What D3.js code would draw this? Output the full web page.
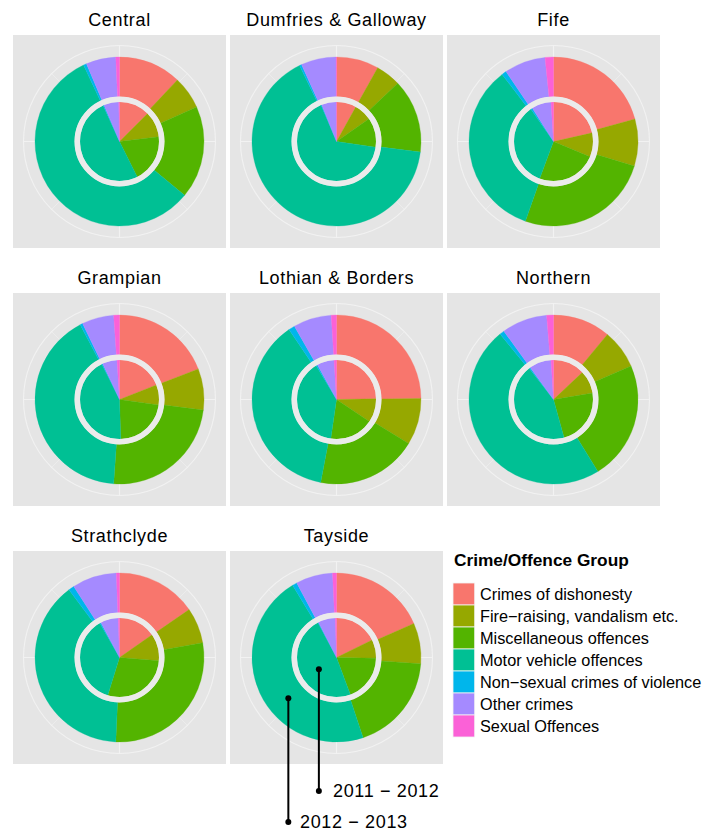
<!DOCTYPE html>
<html>
<head>
<meta charset="utf-8">
<style>
  body { margin: 0; background: #fff; }
  svg { display: block; font-family: "Liberation Sans", Arial, sans-serif; }
</style>
</head>
<body>
<svg width="717" height="835"></svg>
<script src="https://d3js.org/d3.v7.min.js"></script>
<script>

var regions = ["Central", "Dumfries & Galloway", "Fife", "Grampian",
               "Lothian & Borders", "Northern", "Strathclyde", "Tayside"];

var groups = ["Crimes of dishonesty", "Fire\u2212raising, vandalism etc.",
              "Miscellaneous offences", "Motor vehicle offences",
              "Non\u2212sexual crimes of violence", "Other crimes", "Sexual Offences"];

var years = ["2011 \u2212 2012", "2012 \u2212 2013"];

var share2011 = [
  [12.5, 10.6, 19.5, 50.6, 0.4, 6.1, 0.3],
  [ 8.1,  7.2, 12.0, 66.3, 0.3, 6.0, 0.1],
  [21.5,  9.8, 24.4, 34.6, 0.7, 8.0, 1.0],
  [19.0,  8.2, 22.3, 43.1, 0.4, 6.0, 1.0],
  [24.7,  9.7, 17.9, 39.1, 0.6, 7.0, 1.0],
  [13.0,  9.4, 23.3, 43.8, 0.5, 9.0, 1.0],
  [15.3, 11.0, 28.5, 36.9, 0.5, 7.3, 0.5],
  [17.7,  7.6, 19.0, 47.9, 0.3, 7.0, 0.5]
];

var share2012 = [
  [12.0,  6.3, 17.7, 57.0, 0.6, 5.7, 0.7],
  [ 8.1,  4.8, 14.1, 65.8, 0.4, 6.7, 0.1],
  [20.7,  9.0, 25.7, 34.2, 0.9, 7.9, 1.6],
  [19.1,  7.9, 24.1, 41.2, 0.5, 6.1, 1.1],
  [24.8,  8.9, 19.3, 37.5, 1.2, 7.3, 1.0],
  [11.0,  7.5, 22.7, 47.9, 0.9, 8.7, 1.3],
  [15.4,  6.8, 28.5, 39.1, 1.1, 8.5, 0.6],
  [18.4,  7.8, 18.7, 46.4, 0.9, 7.05, 0.75]
];

var palette = ["#F8766D", "#96A800", "#53B400", "#00C094", "#00B6EB", "#A58AFF", "#FB61D7"];

var svg = d3.select("svg");

var panelSize = 213,
    colStep = 217,
    rowStep = 258,
    panelLeft = 13,
    panelTop = 35,
    rMax = 84.5,
    rGrid = 96;

var color = d3.scaleOrdinal().domain(groups).range(palette);

// year -> radius band (inner pie, outer ring)
var r = d3.scaleBand().domain(years).range([0, rMax]).paddingInner(0.115).paddingOuter(0);

// cumulative share -> angle, clockwise from 12 o'clock
var theta = d3.scaleLinear().domain([0, 1]).range([0, 2 * Math.PI]);

var arc = d3.arc();

function stackRow(values) {
  var total = d3.sum(values), acc = 0;
  return values.map(function(v, i) {
    var d = {group: groups[i], start: acc / total};
    acc += v;
    d.end = acc / total;
    return d;
  });
}

function panelX(i) { return panelLeft + (i % 3) * colStep; }
function panelY(i) { return panelTop + Math.floor(i / 3) * rowStep; }

var panels = svg.selectAll("g.panel")
  .data(regions)
  .enter().append("g")
    .attr("class", "panel")
    .attr("transform", function(d, i) { return "translate(" + panelX(i) + "," + panelY(i) + ")"; });

// strip titles
panels.append("text")
    .attr("x", panelSize / 2)
    .attr("y", -9)
    .attr("text-anchor", "middle")
    .attr("font-size", 18)
    .attr("letter-spacing", 0.65)
    .attr("fill", "#000")
    .text(function(d) { return d; });

panels.append("rect")
    .attr("width", panelSize)
    .attr("height", panelSize)
    .attr("fill", "#E5E5E5");

var plot = panels.append("g")
    .attr("transform", "translate(" + panelSize / 2 + "," + panelSize / 2 + ")");

// theta grid: major every quarter, minor in between
var thetaBreaks = d3.range(0, 1, 0.125);
plot.selectAll("line.grid")
  .data(thetaBreaks)
  .enter().append("line")
    .attr("x1", 0).attr("y1", 0)
    .attr("x2", function(t) { return rGrid * Math.sin(theta(t)); })
    .attr("y2", function(t) { return -rGrid * Math.cos(theta(t)); })
    .attr("stroke", "#F2F2F2")
    .attr("stroke-width", function(t) { return (t * 4) % 1 === 0 ? 1.1 : 0.55; });

plot.append("circle")
    .attr("r", rGrid)
    .attr("fill", "none")
    .attr("stroke", "#F2F2F2")
    .attr("stroke-width", 1.1);

// stacked wedges, one ring per year
plot.each(function(region, i) {
  var rows = [share2011[i], share2012[i]];
  var g = d3.select(this);
  years.forEach(function(year, k) {
    g.append("g").selectAll("path")
      .data(stackRow(rows[k]))
      .enter().append("path")
        .attr("d", function(d) {
          return arc({
            innerRadius: r(year),
            outerRadius: r(year) + r.bandwidth(),
            startAngle: theta(d.start),
            endAngle: theta(d.end)
          });
        })
        .attr("fill", function(d) { return color(d.group); })
        .attr("stroke", function(d) { return color(d.group); })
        .attr("stroke-width", 0.3);
  });
  // light ring in the gap between the two years
  g.append("circle")
    .attr("r", (r.bandwidth() + r(years[1])) / 2)
    .attr("fill", "none")
    .attr("stroke", "#EBEBEB")
    .attr("stroke-width", r(years[1]) - r.bandwidth() + 0.4);
});

// legend
var legend = svg.append("g")
    .attr("transform", "translate(453,583)");

legend.append("text")
    .attr("x", 1)
    .attr("y", -17)
    .attr("font-size", 17.3)
    .attr("font-weight", "bold")
    .attr("fill", "#000")
    .text("Crime/Offence Group");

var items = legend.selectAll("g.item")
  .data(groups)
  .enter().append("g")
    .attr("class", "item")
    .attr("transform", function(d, i) { return "translate(0," + i * 22 + ")"; });

items.append("rect")
    .attr("width", 21.7)
    .attr("height", 22)
    .attr("fill", color)
    .attr("stroke", "#F2F2F2")
    .attr("stroke-width", 0.8);

items.append("text")
    .attr("x", 27)
    .attr("y", 11)
    .attr("dy", "0.35em")
    .attr("font-size", 16.3)
    .attr("fill", "#000")
    .text(function(d) { return d; });

// year annotations pointing into the Tayside panel
var noteIndex = regions.indexOf("Tayside");
var noteOrigin = [panelX(noteIndex) + panelSize / 2, panelY(noteIndex) + panelSize / 2];
var notes = [
  {year: years[0], at: 0.657, labelY: 791, textX: 333},
  {year: years[1], at: 0.638, labelY: 822, textX: 300}
];

var note = svg.append("g").selectAll("g")
  .data(notes)
  .enter().append("g");

function notePoint(d) {
  var rr = r(d.year) + r.bandwidth() / 2 + (d.year === years[0] ? 1.3 : -1.5);
  return [noteOrigin[0] + rr * Math.sin(theta(d.at)), noteOrigin[1] - rr * Math.cos(theta(d.at))];
}

note.append("line")
    .attr("x1", function(d) { return notePoint(d)[0]; })
    .attr("y1", function(d) { return notePoint(d)[1]; })
    .attr("x2", function(d) { return notePoint(d)[0]; })
    .attr("y2", function(d) { return d.labelY; })
    .attr("stroke", "#000")
    .attr("stroke-width", 2);

note.append("circle")
    .attr("cx", function(d) { return notePoint(d)[0]; })
    .attr("cy", function(d) { return notePoint(d)[1]; })
    .attr("r", 3);

note.append("circle")
    .attr("cx", function(d) { return notePoint(d)[0]; })
    .attr("cy", function(d) { return d.labelY; })
    .attr("r", 3);

note.append("text")
    .attr("x", function(d) { return d.textX; })
    .attr("y", function(d) { return d.labelY; })
    .attr("dy", "0.36em")
    .attr("font-size", 18)
    .attr("letter-spacing", 0.65)
    .attr("fill", "#000")
    .text(function(d) { return d.year; });

</script>
</body>
</html>
